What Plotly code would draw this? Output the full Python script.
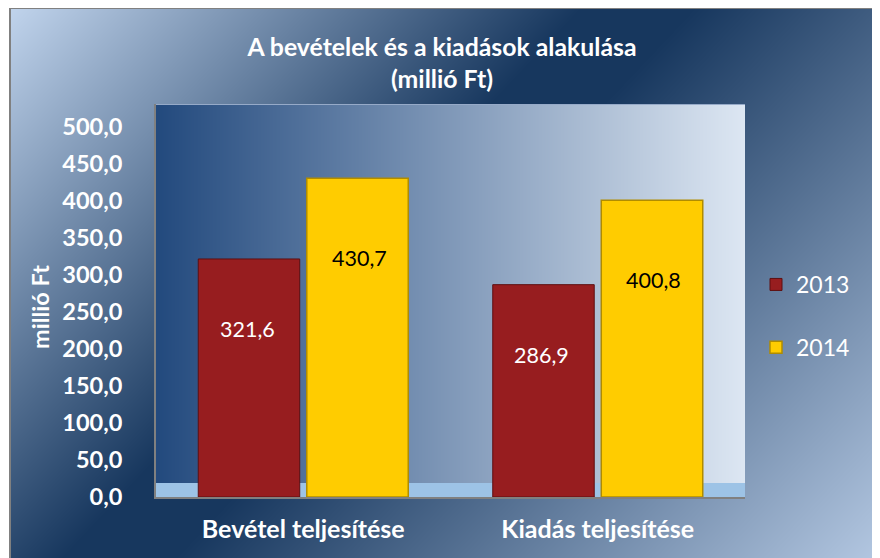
import base64, struct, zlib
import numpy as np
import plotly.graph_objects as go

# ---------------- data ----------------
categories = ["Bevétel teljesítése", "Kiadás teljesítése"]
series_names = ["2013", "2014"]
values_2013 = [321.6, 286.9]
values_2014 = [430.7, 400.8]
y_tickvals = [0, 50, 100, 150, 200, 250, 300, 350, 400, 450, 500]
y_ticktext = ["0,0", "50,0", "100,0", "150,0", "200,0", "250,0", "300,0",
              "350,0", "400,0", "450,0", "500,0"]
title_text = "A bevételek és a kiadások alakulása<br>(millió Ft)"
y_title = "millió Ft"

# ---------------- geometry / style ----------------
# the page body has an 8px margin, so figure coords = screen coords - OFF
OFF = 8
W, H = 880, 558
SL, SR, ST, SB = 156, 745, 104, 497          # plot area on screen
ML, MT = SL - OFF, ST - OFF
MR, MB = W - (SR - OFF), H - (SB - OFF)
PW, PH = SR - SL, SB - ST
FONT = "Lato"


def fmt(v):
    return ("%.1f" % v).replace(".", ",")


def png_uri(arr):
    arr = np.clip(arr, 0, 255).astype(np.uint8)
    h, w, _ = arr.shape
    raw = b"".join(b"\x00" + arr[i].tobytes() for i in range(h))

    def chunk(tag, data):
        c = struct.pack(">I", len(data)) + tag + data
        return c + struct.pack(">I", zlib.crc32(tag + data) & 0xFFFFFFFF)

    png = (b"\x89PNG\r\n\x1a\n"
           + chunk(b"IHDR", struct.pack(">IIBBBBB", w, h, 8, 2, 0, 0, 0))
           + chunk(b"IDAT", zlib.compress(raw, 9))
           + chunk(b"IEND", b""))
    return "data:image/png;base64," + base64.b64encode(png).decode()


# background picture in screen coords (frame, diagonal gradient, wall, floor)
SW, SH = W + OFF, H + OFF
yy, xx = np.mgrid[0:SH, 0:SW]
t = (530 * xx + 500 * yy) / (530 * 880 + 500 * 558)
stops_t = [0.0, 0.42, 0.5, 1.0]
stops_c = [(198, 217, 241), (23, 55, 94), (24, 56, 95), (180, 200, 226)]
bg = np.zeros((SH, SW, 3))
for c in range(3):
    bg[..., c] = np.interp(t, stops_t, [s[c] for s in stops_c])
img = np.full((SH, SW, 3), 255.0)
img[7:SH, 9:876] = (128, 128, 128)
img[9:SH, 11:874] = bg[9:SH, 11:874]
wall_x = np.linspace(0, 1, PW)
left_c, right_c = np.array((35, 74, 126)), np.array((221, 231, 243))
wall_row = left_c[None, :] * (1 - wall_x[:, None]) + right_c[None, :] * wall_x[:, None]
img[ST:SB, SL:SR] = wall_row[None, :, :]
img[ST, SL:SR] = (150, 170, 200)
img[483:SB, SL:SR] = (157, 195, 230)
img = img[OFF:OFF + H, OFF:OFF + W]
bg_uri = png_uri(img)

fig = go.Figure()
fig.add_trace(go.Bar(
    x=categories, y=values_2013, name=series_names[0], legendgroup="a",
    marker=dict(color="#971d1f", line=dict(color="#5e0f10", width=1)),
))
fig.add_trace(go.Bar(
    x=categories, y=values_2014, name=series_names[1], legendgroup="b",
    marker=dict(color="#ffcc00", line=dict(color="#b08c00", width=1.5)),
))

annotations = []
for cat, v in zip(categories, values_2013):
    annotations.append(dict(x=cat, y=v, xref="x", yref="y", text=fmt(v),
                            showarrow=False, xshift=-56, yshift=-70,
                            yanchor="middle",
                            font=dict(family=FONT, size=21.5, color="white")))
for cat, v in zip(categories, values_2014):
    annotations.append(dict(x=cat, y=v, xref="x", yref="y", text=fmt(v),
                            showarrow=False, xshift=56, yshift=-80,
                            yanchor="middle",
                            font=dict(family=FONT, size=21.5, color="black")))
annotations.append(dict(x=(40 - SL) / PW, y=(SB - 307) / PH, xref="paper",
                        yref="paper", text="<b>%s</b>" % y_title, textangle=-90,
                        showarrow=False, xanchor="center", yanchor="middle",
                        font=dict(family=FONT, size=23.5, color="white")))

fig.update_layout(
    width=W, height=H,
    margin=dict(l=ML, r=MR, t=MT, b=MB, pad=0),
    paper_bgcolor="white",
    plot_bgcolor="rgba(0,0,0,0)",
    barmode="group", bargap=0.263, bargroupgap=0.065,
    title=dict(text="<b>%s</b>" % title_text, x=(442 - OFF) / W,
               xref="container", xanchor="center",
               y=1 - (56 - OFF) / H, yref="container", yanchor="middle",
               font=dict(family=FONT, size=24.8, color="white")),
    font=dict(family=FONT, color="white"),
    images=[dict(source=bg_uri, xref="paper", yref="paper",
                 x=-ML / PW, y=1 + MT / PH, sizex=W / PW, sizey=H / PH,
                 xanchor="left", yanchor="top", sizing="stretch",
                 layer="below")],
    xaxis=dict(showgrid=False, showline=True, linecolor="#808080", linewidth=2,
               ticks="", ticklabelstandoff=9,
               tickfont=dict(family=FONT, size=25, color="white"),
               tickprefix="<b>", ticksuffix="</b>"),
    yaxis=dict(range=[0, 531], showgrid=False, zeroline=False,
               showline=True, linecolor="#808080", linewidth=2,
               tickvals=y_tickvals, ticktext=["<b>%s</b>" % s for s in y_ticktext],
               ticks="", ticklabelstandoff=27,
               tickfont=dict(family=FONT, size=23.5, color="white")),
    legend=dict(xref="container", yref="container", x=(756 - OFF) / W,
                y=1 - (263 - OFF) / H, xanchor="left", yanchor="top",
                bgcolor="rgba(0,0,0,0)", tracegroupgap=30,
                font=dict(family=FONT, size=23, color="white")),
    annotations=annotations,
)

fig.write_html("out.html")
